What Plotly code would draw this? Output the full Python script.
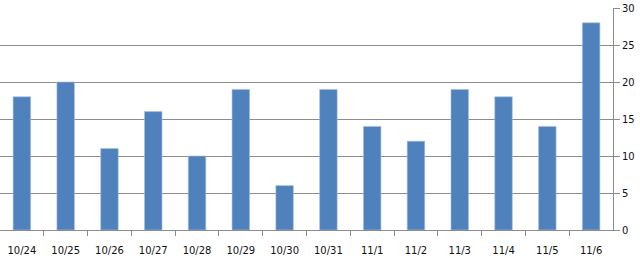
import plotly.graph_objects as go

categories = ["10/24", "10/25", "10/26", "10/27", "10/28", "10/29", "10/30",
              "10/31", "11/1", "11/2", "11/3", "11/4", "11/5", "11/6"]
values = [18, 20, 11, 16, 10, 19, 6, 19, 14, 12, 19, 18, 14, 28]
y_ticks = [0, 5, 10, 15, 20, 25, 30]

idx = list(range(len(categories)))
bounds = [i + 0.5 for i in idx[:-1]]

fig = go.Figure(go.Bar(
    x=idx, y=values, width=0.4,
    marker=dict(color="#4f81bd", line=dict(color="#a7bfdf", width=0.6)),
))
fig.update_layout(
    width=640, height=258,
    margin=dict(l=0, r=27, t=8, b=28),
    paper_bgcolor="white", plot_bgcolor="white",
    showlegend=False,
    font=dict(family="DejaVu Sans", size=10, color="#111111"),
)
fig.update_xaxes(
    range=[-0.5, len(categories) - 0.5],
    tickvals=idx, ticktext=categories,
    showline=True, linecolor="#8c8c8c", linewidth=1,
    ticks="outside", ticklen=11, tickcolor="rgba(0,0,0,0)",
    showgrid=False, zeroline=False, tickfont=dict(size=10, color="#111111"),
    minor=dict(tickvals=bounds, ticks="outside", ticklen=5,
               tickcolor="#8c8c8c", showgrid=False),
)
fig.update_yaxes(
    side="right", range=[0, 30], tickvals=y_ticks,
    showline=True, linecolor="#8c8c8c", linewidth=1,
    ticks="outside", ticklen=6, tickcolor="#8c8c8c",
    showgrid=True, gridcolor="#8c8c8c", gridwidth=1,
    zeroline=False, tickfont=dict(size=10, color="#111111"),
)
fig.write_html("out.html")
